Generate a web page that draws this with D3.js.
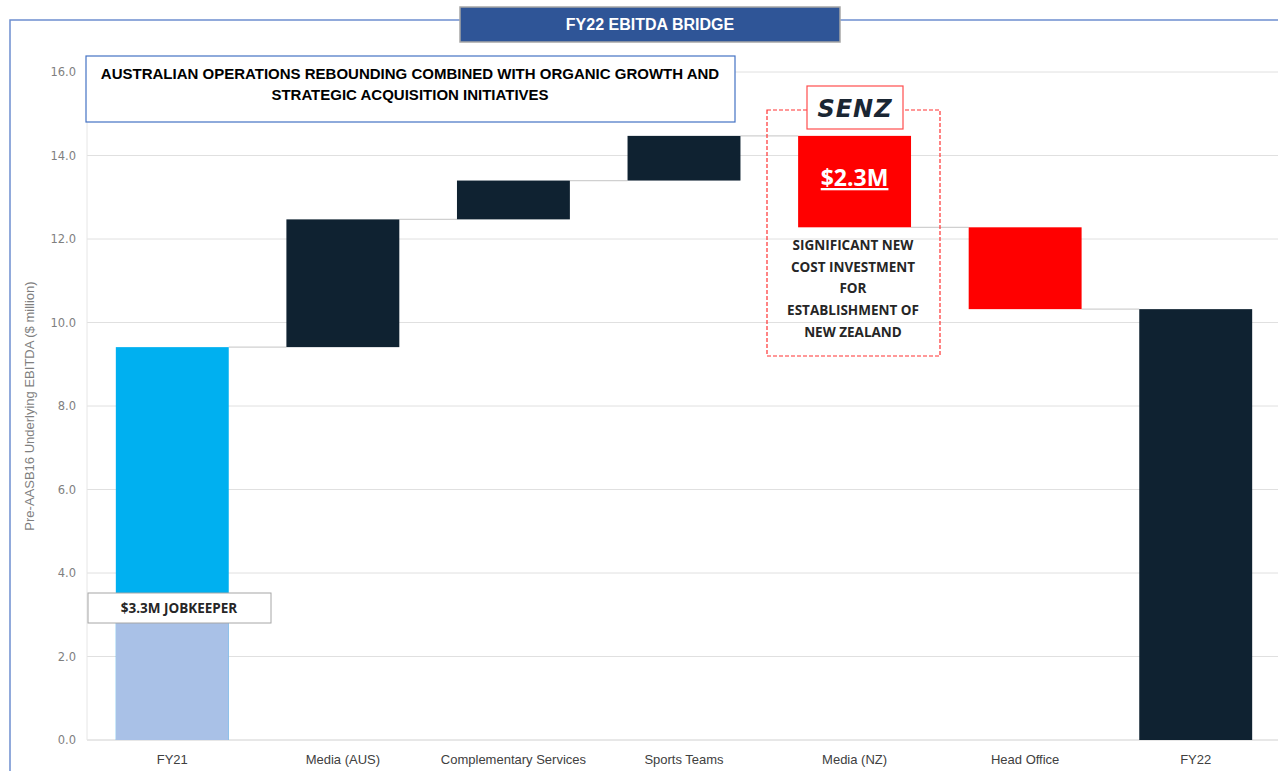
<!DOCTYPE html>
<html><head><meta charset="utf-8">
<script src="https://cdn.jsdelivr.net/npm/d3@7"></script>
<style>
body{margin:0;background:#fff;}
svg{display:block;}
</style></head>
<body>
<svg id="c" width="1278" height="771"></svg>
<script>
const categories = ["FY21","Media (AUS)","Complementary Services","Sports Teams","Media (NZ)","Head Office","FY22"];
// bar kind: total or change
const kinds = ["total","change","change","change","change","change","total"];
const values = [9.41, 3.06, 0.93, 1.07, -2.19, -1.96, 10.32];
const jobkeeper = [3.3]; // FY21 lower segment
const yTicks = [0,2,4,6,8,10,12,14,16];
const colors = {cyan:"#00B0F0", light:"#A9C1E7", dark:"#0F2231", red:"#FF0000"};

// waterfall start/end
let run = 0;
const bars = categories.map((c,i)=>{
  let s,e;
  if(kinds[i]==="total"){ s=0; e=values[i]; run=values[i]; }
  else { s=run; e=run+values[i]; run=e; }
  return {cat:c, start:s, end:e, v:values[i], i};
});

const svg = d3.select("#c");
const narrow = "'Liberation Sans Narrow','Arial Narrow',sans-serif";

const x = d3.scaleBand().domain(categories).range([87,1281]).paddingInner(0.338).paddingOuter(0.169);
const y = d3.scaleLinear().domain([0,16]).range([740,72]);

// outer frame
svg.append("path").attr("d","M10,771 L10,20 L1278,20").attr("fill","none").attr("stroke","#6E8FCF").attr("stroke-width",1.5);

// gridlines
svg.append("g").selectAll("line").data(yTicks).join("line")
  .attr("x1",87).attr("x2",1278).attr("y1",d=>y(d)).attr("y2",d=>y(d))
  .attr("stroke",d=>d===0?"#D0D0D0":"#E0E0E0").attr("stroke-width",1);
svg.append("line").attr("x1",87).attr("x2",87).attr("y1",72).attr("y2",740).attr("stroke","#E6E6E6");

// y axis labels
const yAxis = d3.axisLeft(y).tickValues(yTicks).tickFormat(d3.format(".1f")).tickSize(0).tickPadding(0);
const ya = svg.append("g").attr("transform","translate(76,0)").call(yAxis);
ya.select(".domain").remove();
ya.selectAll("text").attr("fill","#7F7F7F").attr("font-family","'DejaVu Sans',sans-serif").attr("font-size",11.5);

svg.append("text").attr("transform","translate(34,406) rotate(-90)").attr("text-anchor","middle")
  .attr("font-family",narrow).attr("font-size",13).attr("fill","#7F7F7F")
  .text("Pre-AASB16 Underlying EBITDA ($ million)");

// x axis
const xAxis = d3.axisBottom(x).tickSize(0).tickPadding(0);
const xa = svg.append("g").attr("transform","translate(0,755)").call(xAxis);
xa.select(".domain").remove();
xa.selectAll("text").attr("fill","#404040").attr("font-family",narrow).attr("font-size",13);

// connectors
svg.append("g").selectAll("line").data(bars.slice(0,-1)).join("line")
  .attr("x1",d=>x(d.cat)+x.bandwidth()).attr("x2",d=>x(categories[d.i+1]))
  .attr("y1",d=>y(d.end)).attr("y2",d=>y(d.end))
  .attr("stroke","#D0D0D0").attr("stroke-width",1.2);

function barColor(d){
  if(d.i===0) return colors.cyan;
  if(d.v<0) return colors.red;
  return colors.dark;
}
svg.append("g").selectAll("rect").data(bars).join("rect")
  .attr("x",d=>x(d.cat)).attr("width",x.bandwidth())
  .attr("y",d=>y(Math.max(d.start,d.end)))
  .attr("height",d=>Math.abs(y(d.start)-y(d.end)))
  .attr("fill",barColor);
// jobkeeper segment
svg.append("rect").attr("x",x("FY21")).attr("width",x.bandwidth())
  .attr("y",y(jobkeeper[0])).attr("height",y(0)-y(jobkeeper[0])).attr("fill",colors.light);

// title box
svg.append("rect").attr("x",460).attr("y",7).attr("width",380).attr("height",35)
  .attr("fill","#2F5597").attr("stroke","#A6A6A6").attr("stroke-width",1.5);
svg.append("text").attr("x",650).attr("y",30).attr("text-anchor","middle")
  .attr("font-family",narrow).attr("font-weight","bold").attr("font-size",16).attr("fill","#fff")
  .text("FY22 EBITDA BRIDGE");

// annotation box
svg.append("rect").attr("x",86).attr("y",56).attr("width",649).attr("height",66)
  .attr("fill","#fff").attr("stroke","#4472C4").attr("stroke-width",1.2);
const ann = svg.append("text").attr("text-anchor","middle").attr("font-family",narrow)
  .attr("font-weight","bold").attr("font-size",15).attr("fill","#000");
ann.append("tspan").attr("x",410).attr("y",79).text("AUSTRALIAN OPERATIONS REBOUNDING COMBINED WITH ORGANIC GROWTH AND");
ann.append("tspan").attr("x",410).attr("y",100).text("STRATEGIC ACQUISITION INITIATIVES");

// NZ dashed box
svg.append("rect").attr("x",767).attr("y",110).attr("width",173).attr("height",246)
  .attr("fill","none").attr("stroke","#FF3333").attr("stroke-width",1.2).attr("stroke-dasharray","4,2");
svg.append("rect").attr("x",807).attr("y",86).attr("width",96).attr("height",43)
  .attr("fill","#fff").attr("stroke","#FF4D4D").attr("stroke-width",1.2);
svg.append("text").attr("x",855).attr("y",117).attr("text-anchor","middle")
  .attr("font-family","'DejaVu Sans',sans-serif").attr("font-weight","bold").attr("font-style","italic")
  .attr("font-size",24).attr("letter-spacing",1).attr("fill","#1A2633").text("SENZ");

const nz = bars[4];
svg.append("text").attr("x",x(nz.cat)+x.bandwidth()/2).attr("y",186).attr("text-anchor","middle")
  .attr("font-family","'Open Sans',sans-serif").attr("font-weight","bold").attr("font-size",23)
  .attr("fill","#fff").attr("text-decoration","underline").text("$2.3M");

const nzLines = ["SIGNIFICANT NEW","COST INVESTMENT","FOR","ESTABLISHMENT OF","NEW ZEALAND"];
svg.append("g").selectAll("text").data(nzLines).join("text")
  .attr("x",853).attr("y",(d,i)=>250+i*21.7).attr("text-anchor","middle")
  .attr("font-family","'Open Sans',sans-serif").attr("font-weight","bold").attr("font-size",13.5)
  .attr("fill","#262626").text(d=>d);

// jobkeeper box
svg.append("rect").attr("x",88).attr("y",593).attr("width",183).attr("height",30)
  .attr("fill","#fff").attr("stroke","#A6A6A6").attr("stroke-width",1);
svg.append("text").attr("x",179).attr("y",613).attr("text-anchor","middle")
  .attr("font-family","'Open Sans',sans-serif").attr("font-weight","bold").attr("font-size",13.5)
  .attr("fill","#262626").text("$3.3M JOBKEEPER");
</script>
</body></html>
